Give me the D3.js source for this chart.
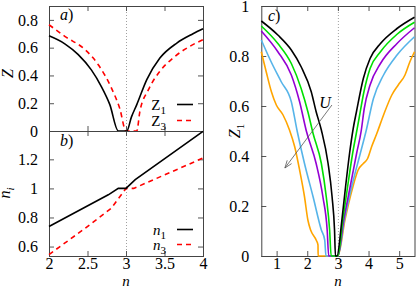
<!DOCTYPE html>
<html>
<head>
<meta charset="utf-8">
<script src="https://cdn.jsdelivr.net/npm/d3@7/dist/d3.min.js"></script>
<style>
  body { margin: 0; background: #fff; }
  svg { display: block; font-family: 'Liberation Serif', 'Times New Roman', serif; }
</style>
</head>
<body>
<div id="chart"></div>
<script>
// Tick values for every panel
const nTicksAB = [2, 2.5, 3, 3.5, 4];
const zTicksA = [0, 0.2, 0.4, 0.6, 0.8];
const niTicksB = [0.6, 0.8, 1, 1.2];
const nTicksC = [1, 2, 3, 4, 5];
const zTicksC = [0, 0.2, 0.4, 0.6, 0.8, 1];

// a) Z_1 and Z_3 against n  ([n, Z])
const z1Curve = [[2.0, 0.685], [2.21, 0.626], [2.38, 0.55], [2.55, 0.44], [2.68, 0.32], [2.79, 0.19],
  [2.9, 0], [3.0, 0], [3.01, 0], [3.07, 0.1], [3.14, 0.19], [3.27, 0.37], [3.44, 0.525],
  [3.66, 0.633], [3.87, 0.70], [4.0, 0.736]];
const z3Curve = [[2.0, 0.765], [2.21, 0.68], [2.47, 0.585], [2.64, 0.477], [2.81, 0.31], [2.92, 0.16],
  [3.0, 0], [3.14, 0], [3.18, 0.14], [3.29, 0.296], [3.44, 0.43], [3.61, 0.525], [3.83, 0.61], [4.0, 0.657]];

// b) occupations n_1 and n_3 against n
const n1Curve = [[2.0, 0.738], [2.77, 0.956], [2.9, 1.0], [3.0, 1.0], [3.12, 1.06], [4.0, 1.393]];
const n3Curve = [[2.0, 0.545], [2.47, 0.726], [2.81, 0.864], [3.0, 1.0], [3.1, 1.0], [4.0, 1.209]];

// c) Z_1 against n for increasing U
const zU1 = [[0.5, 0.94], [1.04, 0.884], [1.48, 0.824], [1.8, 0.757], [2.13, 0.657], [2.29, 0.577],
  [2.46, 0.504], [2.68, 0.37], [2.81, 0.237], [2.89, 0.104], [2.92, 0], [2.97, 0], [3.13, 0.144],
  [3.25, 0.277], [3.38, 0.41], [3.5, 0.51], [3.61, 0.58], [3.83, 0.71], [4.05, 0.79], [4.39, 0.85],
  [4.93, 0.91], [5.5, 0.955]];
const zU2 = [[0.5, 0.92], [1.04, 0.85], [1.48, 0.77], [1.8, 0.67], [2.02, 0.577], [2.19, 0.49],
  [2.46, 0.37], [2.62, 0.237], [2.73, 0.104], [2.78, 0], [3.0, 0], [3.16, 0.144], [3.32, 0.28],
  [3.48, 0.41], [3.6, 0.49], [3.69, 0.55], [3.85, 0.657], [4.05, 0.75], [4.39, 0.817], [4.93, 0.887],
  [5.5, 0.935]];
const zU3 = [[0.5, 0.9], [1.04, 0.817], [1.48, 0.724], [1.75, 0.617], [1.97, 0.5], [2.29, 0.37],
  [2.51, 0.237], [2.65, 0.104], [2.7, 0], [3.0, 0], [3.19, 0.144], [3.4, 0.277], [3.61, 0.41],
  [3.76, 0.5], [3.86, 0.59], [4.05, 0.684], [4.39, 0.77], [4.93, 0.85], [5.5, 0.913]];
const zU4 = [[0.5, 0.864], [0.82, 0.777], [1.15, 0.697], [1.48, 0.617], [1.67, 0.5], [1.91, 0.37],
  [2.19, 0.237], [2.46, 0.104], [2.57, 0.064], [2.61, 0], [3.0, 0], [3.21, 0.144], [3.45, 0.277],
  [3.73, 0.41], [3.92, 0.5], [4.16, 0.63], [4.49, 0.724], [4.93, 0.804], [5.5, 0.877]];
const zU5 = [[0.5, 0.817], [0.66, 0.737], [0.83, 0.657], [0.99, 0.604], [1.21, 0.564], [1.42, 0.504],
  [1.59, 0.437], [1.75, 0.344], [1.91, 0.237], [2.02, 0.144], [2.11, 0.104], [2.29, 0.064],
  [2.35, 0.044], [2.355, 0], [3.0, 0], [3.23, 0.144], [3.35, 0.21], [3.49, 0.277], [3.66, 0.344],
  [3.83, 0.37], [3.97, 0.39], [4.1, 0.437], [4.27, 0.49], [4.49, 0.564], [4.76, 0.644], [4.97, 0.684],
  [5.19, 0.724], [5.35, 0.777], [5.5, 0.817]];

// U arrow, from tail to head, in panel c data units
const arrowTail = [2.805, 0.604];
const arrowHead = [1.27, 0.352];

const Chart = {
    width: 416,
    height: 289,
    fontSize: 16,

    render(container) {
        const svg = d3.select(container)
            .append('svg')
            .attr('width', this.width)
            .attr('height', this.height);

        const xAB = d3.scaleLinear().domain([2, 4]).range([49, 203]);
        const yA = d3.scaleLinear().domain([0, 0.9]).range([131, 6]);
        const yB = d3.scaleLinear().domain([0.535, 1.395]).range([256, 131]);
        const xC = d3.scaleLinear().domain([0.5, 5.5]).range([261.3, 414.5]);
        const yC = d3.scaleLinear().domain([0, 1]).range([256, 6]);

        // Dotted guide at n = 3 goes under everything
        this.guide(svg, xAB, [6, 256]);
        this.guide(svg, xC, [6, 256]);

        this.panelA(svg, xAB, yA);
        this.panelB(svg, xAB, yB);
        this.panelC(svg, xC, yC);
    },

    /**
     * Frame with inward ticks on all four sides
     */
    frame(svg, x, y, xTicks, yTicks, xLabels, yPad) {
        const [x0, x1] = x.range();
        const [y0, y1] = y.range();
        const fmt = d => String(d);

        const axes = [
            [d3.axisBottom(x).tickValues(xTicks).tickPadding(2).tickFormat(xLabels ? fmt : ''), `translate(0,${y0})`],
            [d3.axisTop(x).tickValues(xTicks).tickFormat(''), `translate(0,${y1})`],
            [d3.axisLeft(y).tickValues(yTicks).tickPadding(yPad).tickFormat(fmt), `translate(${x0},0)`],
            [d3.axisRight(y).tickValues(yTicks).tickFormat(''), `translate(${x1},0)`]
        ];
        axes.forEach(([axis, tr]) => {
            const g = svg.append('g')
                .attr('transform', tr)
                .call(axis.tickSize(-5))
                .attr('font-family', null)
                .attr('font-size', this.fontSize);
            g.select('.domain').remove();
            g.selectAll('line').attr('stroke', '#555');
            g.selectAll('text').attr('fill', '#000');
        });

        svg.append('rect')
            .attr('x', x0 + 0.5)
            .attr('y', y1 + 0.5)
            .attr('width', x1 - x0)
            .attr('height', y0 - y1)
            .attr('fill', 'none')
            .attr('stroke', '#444')
            .attr('stroke-width', 1);
    },

    guide(svg, x, [top, bottom]) {
        svg.append('line')
            .attr('x1', x(3) + 0.5).attr('x2', x(3) + 0.5)
            .attr('y1', top).attr('y2', bottom)
            .attr('stroke', '#888')
            .attr('stroke-width', 0.8)
            .attr('stroke-dasharray', '1,2');
    },

    curve(svg, x, y, pts, color, dash, straight) {
        const line = d3.line()
            .x(d => x(d[0]))
            .y(d => y(d[1]))
            .curve(straight ? d3.curveLinear : d3.curveMonotoneX);
        svg.append('path')
            .datum(pts)
            .attr('d', line)
            .attr('fill', 'none')
            .attr('stroke', color)
            .attr('stroke-width', 1.6)
            .attr('stroke-dasharray', dash || null);
    },

    /**
     * Text with an optional subscript, e.g. Z_1
     */
    label(svg, x, y, main, sub, opts = {}) {
        const t = svg.append('text')
            .attr('x', x)
            .attr('y', y)
            .attr('font-size', opts.size || this.fontSize)
            .attr('text-anchor', opts.anchor || 'start')
            .attr('font-style', opts.italic ? 'italic' : null);
        if (opts.rotate) t.attr('transform', `rotate(-90,${x},${y})`);
        t.append('tspan').text(main);
        if (sub) {
            t.append('tspan')
                .attr('font-size', 11)
                .attr('font-style', opts.subItalic ? 'italic' : 'normal')
                .attr('dy', 4)
                .text(sub);
        }
        return t;
    },

    legendRow(svg, x, yLine, main, sub, italic, color, dash) {
        const [, x1] = x.range();
        this.label(svg, x1 - 37, yLine + 5, main, sub, { anchor: 'end', italic, size: 15 });
        svg.append('line')
            .attr('x1', x1 - 26).attr('x2', x1 - 10)
            .attr('y1', yLine).attr('y2', yLine)
            .attr('stroke', color)
            .attr('stroke-width', 1.6)
            .attr('stroke-dasharray', dash || null);
    },

    panelA(svg, x, y) {
        this.frame(svg, x, y, nTicksAB, zTicksA, false, 11);
        this.curve(svg, x, y, z3Curve, '#f00', '5,4');
        this.curve(svg, x, y, z1Curve, '#000');
        this.legendRow(svg, x, 104.5, 'Z', '1', false, '#000');
        this.legendRow(svg, x, 120.5, 'Z', '3', false, '#f00', '5,4');
        this.label(svg, 60, 20, 'a', null, { italic: true }).append('tspan').attr('font-style', 'normal').text(')');
        this.label(svg, 12.5, (y.range()[0] + y.range()[1]) / 2 + 5, 'Z', null, { italic: true, rotate: true, anchor: 'middle' });
    },

    panelB(svg, x, y) {
        this.frame(svg, x, y, nTicksAB, niTicksB, true, 11);
        this.curve(svg, x, y, n3Curve, '#f00', '5,4', true);
        this.curve(svg, x, y, n1Curve, '#000', null, true);
        this.legendRow(svg, x, 229.5, 'n', '1', true, '#000');
        this.legendRow(svg, x, 244.5, 'n', '3', true, '#f00', '5,4');
        this.label(svg, 60, 146, 'b', null, { italic: true }).append('tspan').attr('font-style', 'normal').text(')');
        this.label(svg, 9.5, 193, 'n', 'i', { italic: true, subItalic: true, rotate: true, anchor: 'middle' });
        this.label(svg, (x.range()[0] + x.range()[1]) / 2, 286, 'n', null, { italic: true, anchor: 'middle', size: 15 });
    },

    panelC(svg, x, y) {
        this.frame(svg, x, y, nTicksC, zTicksC, true, 12);
        const colors = ['#000', '#00e000', '#9400d3', '#56b4e9', '#ffa500'];
        [zU5, zU4, zU3, zU2, zU1].forEach((pts, i) => {
            this.curve(svg, x, y, pts, colors[4 - i]);
        });

        // Arrow showing the direction of growing U
        const [tx, ty] = [x(arrowTail[0]), y(arrowTail[1])];
        const [hx, hy] = [x(arrowHead[0]), y(arrowHead[1])];
        const ang = Math.atan2(hy - ty, hx - tx);
        const len = 8, spread = 0.35;
        svg.append('path')
            .attr('d', `M${tx},${ty}L${hx},${hy}` +
                `M${hx - len * Math.cos(ang - spread)},${hy - len * Math.sin(ang - spread)}L${hx},${hy}` +
                `L${hx - len * Math.cos(ang + spread)},${hy - len * Math.sin(ang + spread)}`)
            .attr('fill', 'none')
            .attr('stroke', '#555')
            .attr('stroke-width', 0.8);
        this.label(svg, x(2.58), y(0.616) + 6, 'U', null, { italic: true, anchor: 'middle' });

        this.label(svg, 268, 21, 'c', null, { italic: true }).append('tspan').attr('font-style', 'normal').text(')');
        this.label(svg, 240, 131, 'Z', '1', { italic: true, rotate: true, anchor: 'middle' });
        this.label(svg, (x.range()[0] + x.range()[1]) / 2, 286, 'n', null, { italic: true, anchor: 'middle', size: 15 });
    }
};

Chart.render(document.getElementById('chart'));
</script>
</body>
</html>
